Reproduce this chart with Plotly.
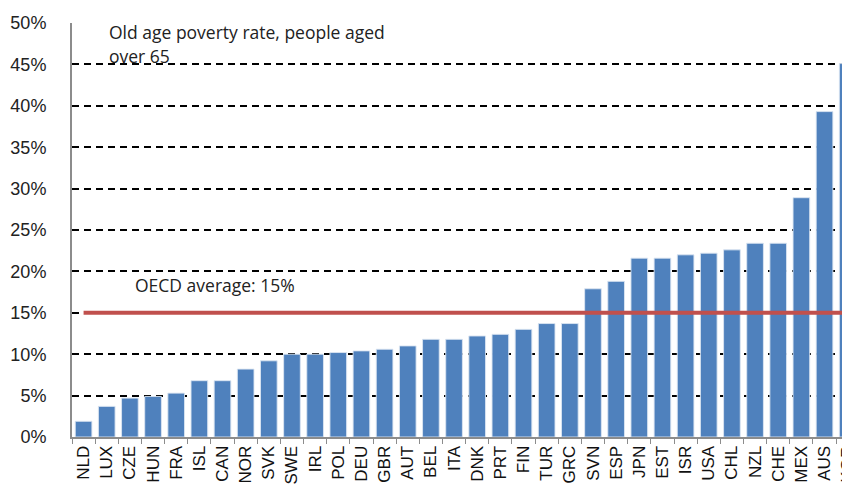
import plotly.graph_objects as go

countries = ["NLD", "LUX", "CZE", "HUN", "FRA", "ISL", "CAN", "NOR", "SVK", "SWE",
             "IRL", "POL", "DEU", "GBR", "AUT", "BEL", "ITA", "DNK", "PRT", "FIN",
             "TUR", "GRC", "SVN", "ESP", "JPN", "EST", "ISR", "USA", "CHL", "NZL",
             "CHE", "MEX", "AUS", "KOR"]
poverty_rate = [1.9, 3.7, 4.7, 4.9, 5.3, 6.8, 6.8, 8.2, 9.2, 10.0,
                10.0, 10.2, 10.4, 10.6, 11.0, 11.8, 11.8, 12.2, 12.4, 13.0,
                13.7, 13.7, 17.9, 18.8, 21.6, 21.6, 22.0, 22.2, 22.6, 23.4,
                23.4, 28.9, 39.3, 45.1]
oecd_average = 15.0
y_ticks = [0, 5, 10, 15, 20, 25, 30, 35, 40, 45, 50]
y_tick_labels = [f"{v}%" for v in y_ticks]

fig = go.Figure()
fig.add_trace(go.Bar(
    x=countries, y=poverty_rate,
    marker=dict(color="#4F81BD", line=dict(color="rgba(220,230,242,0.9)", width=1)),
    showlegend=False,
))
fig.add_trace(go.Scatter(
    x=countries, y=[oecd_average] * len(countries), mode="lines",
    line=dict(color="#C0504D", width=4), showlegend=False,
))

PLOT_TOP, PLOT_H = 23, 414


def ypaper(py):
    return 1 - (py - PLOT_TOP) / PLOT_H


fig.update_layout(
    width=842, height=480,
    margin=dict(l=64, r=0, t=15, b=51),
    plot_bgcolor="white", paper_bgcolor="white",
    bargap=0.28,
    font=dict(family="Liberation Sans, Arial", color="#222222"),
    xaxis=dict(
        type="category", range=[-0.5, 33.1], automargin=False,
        tickangle=-90, tickfont=dict(size=17, color="#111111"),
        showline=True, linecolor="#8c8c8c", linewidth=2,
        ticks="outside", tickson="boundaries", ticklen=5, tickcolor="#8c8c8c",
        showgrid=False,
    ),
    yaxis=dict(
        range=[0, 50], tickvals=y_ticks, ticktext=y_tick_labels, automargin=False,
        tickfont=dict(size=18, color="#222222"),
        showline=True, linecolor="#8c8c8c", linewidth=2,
        ticks="outside", ticklen=20, tickcolor="rgba(0,0,0,0)",
        showgrid=True, gridcolor="#000000", gridwidth=1.5, griddash="7px,5px",
        zeroline=False,
    ),
    annotations=[
        dict(text="Old age poverty rate, people aged", xref="paper", yref="paper",
             x=(107 - 72) / 778, y=ypaper(32), xanchor="left", yanchor="middle",
             showarrow=False, font=dict(family="Open Sans", size=17.5, color="#222222")),
        dict(text="over 65", xref="paper", yref="paper",
             x=(107 - 72) / 778, y=ypaper(56), xanchor="left", yanchor="middle",
             showarrow=False, font=dict(family="Open Sans", size=17.5, color="#222222")),
        dict(text="OECD average: 15%", xref="paper", yref="y",
             x=(133 - 72) / 778, y=18.4, xanchor="left", yanchor="middle",
             showarrow=False, font=dict(family="Open Sans", size=17.5, color="#222222")),
    ],
)

fig.write_html("out.html")
